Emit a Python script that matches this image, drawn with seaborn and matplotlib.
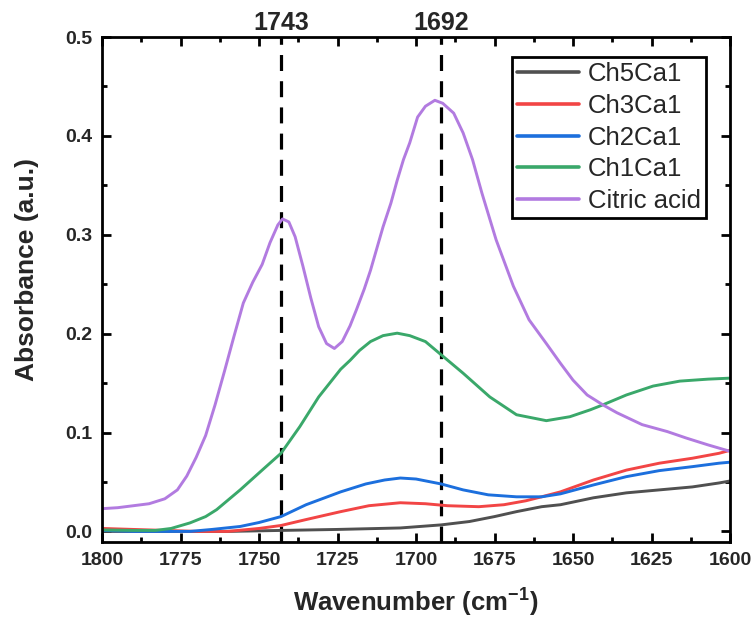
import numpy as np
import pandas as pd
import matplotlib
matplotlib.use("Agg")
import matplotlib.pyplot as plt
import matplotlib.transforms as mtransforms
from matplotlib.ticker import MultipleLocator, FormatStrFormatter
import seaborn as sns

# ---------------- data ----------------
series_names = ["Ch5Ca1", "Ch3Ca1", "Ch2Ca1", "Ch1Ca1", "Citric acid"]
series_colors = ["#505050", "#F24545", "#1C6FDD", "#3AA86A", "#B27BE0"]

ch5_wn = [1800, 1780, 1760, 1743, 1725, 1705, 1692, 1683, 1675, 1668, 1660, 1654,
          1643.5, 1633, 1622.5, 1612, 1603.5, 1600]
ch5_ab = [0.000, 0.000, 0.000, 0.001, 0.002, 0.0035, 0.0066, 0.010, 0.015, 0.020, 0.025, 0.027,
          0.034, 0.039, 0.042, 0.045, 0.049, 0.051]

ch3_wn = [1800, 1790, 1780, 1770, 1760, 1750, 1743, 1735, 1724, 1715, 1705, 1697, 1690,
          1680, 1672, 1665, 1660, 1654, 1643.5, 1633, 1622.5, 1612, 1603.5, 1600]
ch3_ab = [0.003, 0.002, 0.001, 0.000, 0.000, 0.003, 0.006, 0.012, 0.020, 0.026, 0.029, 0.028, 0.026,
          0.025, 0.027, 0.031, 0.035, 0.040, 0.052, 0.062, 0.069, 0.074, 0.079, 0.082]

ch2_wn = [1800, 1790, 1780, 1772, 1765, 1756, 1750, 1743, 1735, 1724, 1716, 1710, 1705,
          1700, 1692, 1685, 1677, 1668, 1660, 1654, 1643.5, 1633, 1622.5, 1612, 1603.5, 1600]
ch2_ab = [0.001, 0.000, 0.000, 0.000, 0.002, 0.005, 0.009, 0.015, 0.027, 0.040, 0.048, 0.052, 0.054,
          0.053, 0.048, 0.042, 0.037, 0.035, 0.035, 0.038, 0.047, 0.0554, 0.0615, 0.0655, 0.069, 0.070]

ch1_wn = [1800, 1790, 1783, 1778, 1772, 1767, 1763.5, 1756, 1749, 1743, 1737, 1731, 1727.5,
          1724, 1721, 1718, 1714.5, 1710.5, 1706, 1702, 1697, 1692.5, 1685, 1676.5, 1668, 1658.5,
          1651, 1644.5, 1640.5, 1633, 1624.5, 1616, 1607, 1600]
ch1_ab = [0.0015, 0.001, 0.001, 0.003, 0.0086, 0.015, 0.022, 0.042, 0.062, 0.079, 0.106, 0.136, 0.150,
          0.164, 0.173, 0.183, 0.192, 0.198, 0.2005, 0.198, 0.192, 0.180, 0.160, 0.136, 0.118, 0.112,
          0.116, 0.123, 0.128, 0.138, 0.147, 0.152, 0.154, 0.155]

ca_wn = [1800, 1795, 1790, 1785, 1780, 1776, 1773, 1770, 1767, 1764, 1761, 1758, 1755, 1752,
         1749, 1746.5, 1744, 1742.5, 1740.5, 1738.5, 1736, 1733.5, 1731, 1728.5, 1726, 1723.5,
         1721, 1719, 1716.5, 1714.5, 1712.5, 1710.5, 1708, 1706, 1704, 1702, 1699.5, 1697, 1694,
         1691.5, 1688, 1685, 1682, 1679, 1674.5, 1669, 1664, 1658.5, 1654, 1650, 1645.5, 1640.5,
         1636, 1628, 1620, 1614, 1607, 1600]
ca_ab = [0.023, 0.024, 0.026, 0.028, 0.033, 0.042, 0.056, 0.075, 0.097, 0.128, 0.162, 0.197, 0.231, 0.252,
         0.270, 0.292, 0.310, 0.316, 0.313, 0.298, 0.268, 0.236, 0.207, 0.190, 0.185, 0.192,
         0.208, 0.224, 0.245, 0.264, 0.286, 0.308, 0.332, 0.355, 0.376, 0.393, 0.419, 0.430, 0.436,
         0.433, 0.423, 0.403, 0.376, 0.342, 0.295, 0.248, 0.214, 0.190, 0.170, 0.153, 0.138, 0.128,
         0.120, 0.108, 0.101, 0.0945, 0.0875, 0.081]

peak_positions = [1743, 1692]
peak_labels = ["1743", "1692"]

x_ticks = [1800, 1775, 1750, 1725, 1700, 1675, 1650, 1625, 1600]
y_ticks = [0.0, 0.1, 0.2, 0.3, 0.4, 0.5]

# ---------------- build table ----------------
frames = []
for name, wn, ab in zip(series_names,
                        [ch5_wn, ch3_wn, ch2_wn, ch1_wn, ca_wn],
                        [ch5_ab, ch3_ab, ch2_ab, ch1_ab, ca_ab]):
    frames.append(pd.DataFrame({"wn": wn, "ab": ab, "sample": name}))
df = pd.concat(frames, ignore_index=True)

# ---------------- style ----------------
sns.set_theme(style="ticks")
plt.rcParams["font.family"] = ["Liberation Sans", "DejaVu Sans"]
plt.rcParams["mathtext.fontset"] = "custom"
plt.rcParams["mathtext.rm"] = "Liberation Sans:bold"
plt.rcParams["mathtext.bf"] = "Liberation Sans:bold"
plt.rcParams["mathtext.default"] = "bf"

fig = plt.figure(figsize=(7.54, 6.19), dpi=100)
ax = fig.add_axes([0.1353, 0.1244, 0.8329, 0.8158])

sns.lineplot(data=df, x="wn", y="ab", hue="sample", hue_order=series_names,
             palette=dict(zip(series_names, series_colors)), sort=False, estimator=None,
             units="sample", linewidth=2.1, ax=ax, legend=False)

for p in peak_positions:
    ax.axvline(p, color="black", lw=2.3, ls=(0, (5, 3.2)), zorder=1)

ax.set_xlim(1800, 1600)
ax.set_ylim(-0.0107, 0.5)
ax.set_xticks(x_ticks)
ax.set_yticks(y_ticks)
ax.xaxis.set_minor_locator(MultipleLocator(12.5))
ax.yaxis.set_minor_locator(MultipleLocator(0.05))
ax.yaxis.set_major_formatter(FormatStrFormatter("%.1f"))

for s in ax.spines.values():
    s.set_linewidth(2.0)
    s.set_color("black")
ax.tick_params(which="both", direction="in", top=True, right=True, width=2.0, color="black")
ax.tick_params(which="major", length=6.5, labelsize=14, pad=7)
ax.tick_params(which="minor", length=3.5)
for lab in ax.get_xticklabels() + ax.get_yticklabels():
    lab.set_fontweight("bold")

ax.set_xlabel("Wavenumber (cm$^{-1}$)", fontsize=18.5, fontweight="bold", labelpad=13)
ax.set_ylabel("Absorbance (a.u.)", fontsize=19, fontweight="bold")
ax.yaxis.set_label_coords(-0.10, 0.54)

trans = mtransforms.blended_transform_factory(ax.transData, ax.transAxes)
for p, t in zip(peak_positions, peak_labels):
    ax.text(p, 1.004, t, transform=trans, ha="center", va="bottom",
            fontsize=18, fontweight="bold")

handles = [plt.Line2D([], [], color=c, lw=2.6) for c in series_colors]
leg = ax.legend(handles, series_names, loc="upper right", bbox_to_anchor=(0.9618, 0.9604),
                borderaxespad=0, fancybox=False, framealpha=1, edgecolor="black",
                fontsize=18.5, handlelength=2.4, handletextpad=0.35, labelspacing=0.3,
                borderpad=0.2)
leg.get_frame().set_linewidth(2.0)

fig.savefig("out.png", dpi=100)
